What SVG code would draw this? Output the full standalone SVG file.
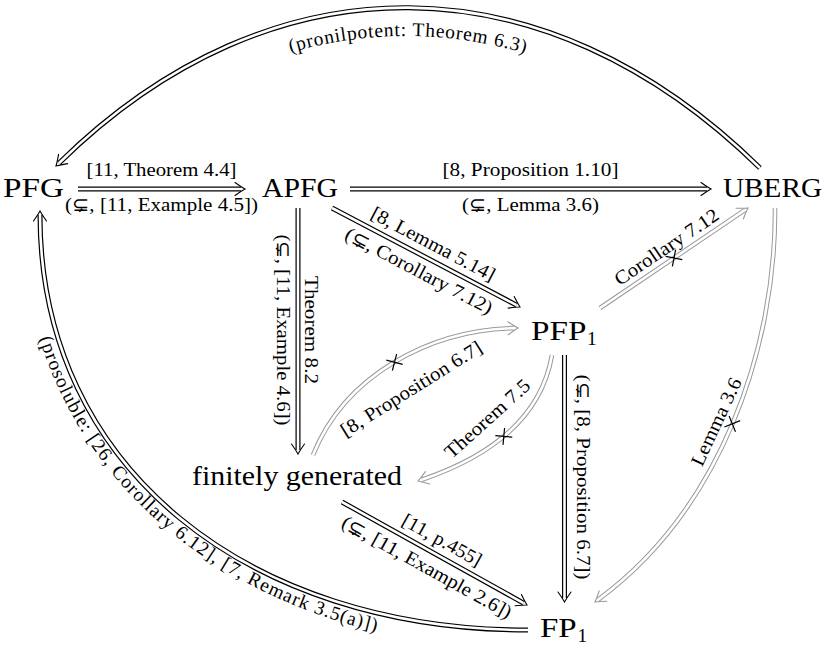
<svg xmlns="http://www.w3.org/2000/svg" width="825" height="651" viewBox="0 0 825 651">
<style>
 .node { font-family: "Liberation Serif", "DejaVu Serif", serif; font-size: 27.5px; fill: #000; }
 .sub { font-family: "Liberation Serif", "DejaVu Serif", serif; font-size: 19.4px; fill: #000; }
 .lbl { font-family: "Liberation Serif", "DejaVu Serif", serif; font-size: 19.4px; fill: #000; text-anchor: middle; }
 .ob { fill: none; stroke: #000; stroke-width: 5; }
 .og { fill: none; stroke: #999; stroke-width: 4.6; }
 .in { fill: none; stroke: #fff; stroke-width: 2.6; }
 .hb { fill: none; stroke: #000; stroke-width: 1.1; stroke-linecap: round; }
 .hg { fill: none; stroke: #999; stroke-width: 1.1; stroke-linecap: round; }
 .xm { fill: none; stroke: #000; stroke-width: 1.2; }
</style>
<defs>
 <path id="ah" d="M-10,-6.5 Q-4,-2.2 0,0 Q-4,2.2 -10,6.5"/>
 <path id="xx" d="M-6,-6 L6,6 M-6,6 L6,-6"/>
 <path id="p1" d="M78,189 H241"/>
 <path id="p2" d="M350,189 H707"/>
 <path id="p3" d="M332,208 L516.5,305.1"/>
 <path id="p4" d="M298,208 V450"/>
 <path id="p5" d="M600,308 L744.7,210.2"/>
 <path id="p6" d="M775,208 C776,350 720,510 598.2,599.6"/>
 <path id="p7" d="M564.5,355 V598"/>
 <path id="p8" d="M552,355 C540,425 480,460 421.8,479.7"/>
 <path id="p9" d="M313,455 C345,375 430,330 514,328.1"/>
 <path id="p10" d="M342,502 L523.5,603.1"/>
 <path id="p11" d="M528,630 C250,630 40,470 40,215"/>
 <path id="p12" d="M760,168 C544,-44 272,-46 58.9,163.2"/>
 <path id="t11" d="M21,212 C21,477 244,649 528,649"/>
 <path id="t12" d="M74.4,184.4 C273.6,-14.8 542.4,-12.8 741.6,186.4"/>
</defs>

<g id="nodes">
 <g id="n-pfg"><text class="node" x="3" y="197" textLength="61" lengthAdjust="spacingAndGlyphs">PFG</text></g>
 <g id="n-apfg"><text class="node" x="262" y="197" textLength="76" lengthAdjust="spacingAndGlyphs">APFG</text></g>
 <g id="n-uberg"><text class="node" x="723" y="197" textLength="99" lengthAdjust="spacingAndGlyphs">UBERG</text></g>
 <g id="n-pfp1"><text class="node" x="531" y="340" textLength="55.4" lengthAdjust="spacingAndGlyphs">PFP</text><text class="sub" x="587" y="345">1</text></g>
 <g id="n-fg"><text class="node" x="192" y="485" textLength="210" lengthAdjust="spacingAndGlyphs">finitely generated</text></g>
 <g id="n-fp1"><text class="node" x="540" y="637" textLength="36.7" lengthAdjust="spacingAndGlyphs">FP</text><text class="sub" x="577.5" y="642">1</text></g>
</g>

<g id="connectors">
 <!-- black double lines -->
 <use href="#p1" class="ob"/><use href="#p1" class="in"/>
 <use href="#p2" class="ob"/><use href="#p2" class="in"/>
 <use href="#p3" class="ob"/><use href="#p3" class="in"/>
 <use href="#p4" class="ob"/><use href="#p4" class="in"/>
 <use href="#p7" class="ob"/><use href="#p7" class="in"/>
 <use href="#p10" class="ob"/><use href="#p10" class="in"/>
 <use href="#p11" class="ob"/><use href="#p11" class="in"/>
 <use href="#p12" class="ob"/><use href="#p12" class="in"/>
 <!-- gray double lines -->
 <use href="#p5" class="og"/><use href="#p5" class="in"/>
 <use href="#p6" class="og"/><use href="#p6" class="in"/>
 <use href="#p8" class="og"/><use href="#p8" class="in"/>
 <use href="#p9" class="og"/><use href="#p9" class="in"/>
 <!-- arrowheads -->
 <use href="#ah" class="hb" transform="translate(245,189)"/>
 <use href="#ah" class="hb" transform="translate(711,189)"/>
 <use href="#ah" class="hb" transform="translate(520,307) rotate(27.8)"/>
 <use href="#ah" class="hb" transform="translate(298,454) rotate(90)"/>
 <use href="#ah" class="hb" transform="translate(564.5,602) rotate(90)"/>
 <use href="#ah" class="hb" transform="translate(527,605) rotate(29.1)"/>
 <use href="#ah" class="hb" transform="translate(40,211) rotate(-90)"/>
 <use href="#ah" class="hb" transform="translate(56,166) rotate(135.5)"/>
 <use href="#ah" class="hg" transform="translate(748,208) rotate(-34)"/>
 <use href="#ah" class="hg" transform="translate(595,602) rotate(143.6)"/>
 <use href="#ah" class="hg" transform="translate(418,481) rotate(161.3)"/>
 <use href="#ah" class="hg" transform="translate(518,328) rotate(-1.3)"/>
 <!-- crossing marks -->
 <use href="#xx" class="xm" transform="translate(674,258) rotate(-34)"/>
 <use href="#xx" class="xm" transform="translate(732.3,423.8) rotate(113)"/>
 <use href="#xx" class="xm" transform="translate(503.8,436.4) rotate(140.3)"/>
 <use href="#xx" class="xm" transform="translate(394.5,362.3) rotate(-30.7)"/>
 <!-- labels -->
 <g transform="translate(161.5,189)">
  <text class="lbl" y="-13" textLength="150" lengthAdjust="spacingAndGlyphs">[11, Theorem 4.4]</text>
  <text class="lbl" y="22" textLength="193" lengthAdjust="spacingAndGlyphs">(⊊, [11, Example 4.5])</text>
 </g>
 <g transform="translate(530.5,189)">
  <text class="lbl" y="-13" textLength="176" lengthAdjust="spacingAndGlyphs">[8, Proposition 1.10]</text>
  <text class="lbl" y="22" textLength="137" lengthAdjust="spacingAndGlyphs">(⊊, Lemma 3.6)</text>
 </g>
 <g transform="translate(426,257.5) rotate(27.8)">
  <text class="lbl" y="-9" textLength="137.5" lengthAdjust="spacingAndGlyphs">[8, Lemma 5.14]</text>
  <text class="lbl" y="21.5" textLength="164" lengthAdjust="spacingAndGlyphs">(⊊, Corollary 7.12)</text>
 </g>
 <g transform="translate(298,330) rotate(90)">
  <text class="lbl" y="-7" textLength="108" lengthAdjust="spacingAndGlyphs">Theorem 8.2</text>
  <text class="lbl" y="21" textLength="191" lengthAdjust="spacingAndGlyphs">(⊊, [11, Example 4.6])</text>
 </g>
 <g transform="translate(674,258) rotate(-34)">
  <text class="lbl" y="-7" textLength="121.5" lengthAdjust="spacingAndGlyphs">Corollary 7.12</text>
 </g>
 <g transform="translate(722,424.5) rotate(-65)">
  <text class="lbl" textLength="95" lengthAdjust="spacingAndGlyphs">Lemma 3.6</text>
 </g>
 <g transform="translate(564.5,477) rotate(90)">
  <text class="lbl" y="-12" textLength="205" lengthAdjust="spacingAndGlyphs">(⊊, [8, Proposition 6.7])</text>
 </g>
 <g transform="translate(491.6,423.4) rotate(-42)">
  <text class="lbl" textLength="108" lengthAdjust="spacingAndGlyphs">Theorem 7.5</text>
 </g>
 <g transform="translate(414.6,394.2) rotate(-32)">
  <text class="lbl" textLength="163" lengthAdjust="spacingAndGlyphs">[8, Proposition 6.7]</text>
 </g>
 <g transform="translate(434.5,553.5) rotate(29.1)">
  <text class="lbl" y="-9" textLength="88" lengthAdjust="spacingAndGlyphs">[11, p.455]</text>
  <text class="lbl" y="22" textLength="191" lengthAdjust="spacingAndGlyphs">(⊊, [11, Example 2.6])</text>
 </g>
 <text class="sub" letter-spacing="1"><textPath href="#t11" startOffset="128">(prosoluble: [26, Corollary 6.12], [7, Remark 3.5(a)])</textPath></text>
 <text class="lbl" letter-spacing="0.8"><textPath href="#t12" startOffset="50%">(pronilpotent: Theorem 6.3)</textPath></text>
</g>
</svg>
